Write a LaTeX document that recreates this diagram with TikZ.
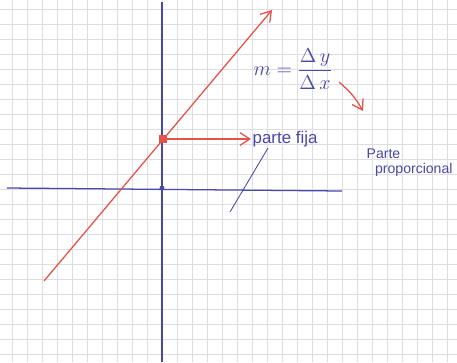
\documentclass[tikz,border=0pt]{standalone}
\usepackage{fontspec}
\setmainfont{Liberation Sans}
\usetikzlibrary{positioning, arrows.meta}
\definecolor{penred}{RGB}{228,82,72}
\definecolor{penblue}{RGB}{72,72,168}
\definecolor{gridgray}{RGB}{222,222,226}

\begin{document}
\begin{tikzpicture}[x=0.025cm, y=-0.025cm,
        paper/.style={gridgray, line width=0.4pt},
        axis/.style={penblue, line width=0.9pt},
        redarrow/.style={-{Straight Barb[length=7pt, width=9pt]}, penred, line width=0.9pt},
        label/.style={penblue, inner sep=1pt},
        dot/.style={circle, inner sep=0pt, minimum size=5pt}
    ]
        \useasboundingbox (0,0) rectangle (457,362);
        \fill[white] (0,0) rectangle (457,362);
        % cuadricula
        \foreach \gx in {12,27,...,457} \draw[paper] (\gx,0) -- (\gx,362);
        \foreach \gy in {9,24,...,362} \draw[paper] (0,\gy) -- (457,\gy);

        % ejes
        \coordinate (yTop) at (162,2);
        \coordinate (yBot) at (162,362);
        \coordinate (xLeft) at (7,188);
        \coordinate (xRight) at (342,191);
        \draw[axis] (yBot) -- (yTop);
        \draw[axis] (xLeft) -- (xRight);
        \node[dot, fill=penblue, minimum size=3.5pt] (origin) at (162,188) {};

        % recta
        \coordinate (lineStart) at (44,281);
        \coordinate (lineEnd) at (272,10);
        \node[dot, fill=penred, rectangle, minimum size=5pt] (cut) at (163,139) {};
        \draw[redarrow] (lineStart) -- (lineEnd);

        % textos
        \node[label, anchor=west, font=\large] (fija) at (251,139) {parte fija};
        \node[label, font=\Large] (slope) at (293,69) {$\displaystyle m=\frac{\Delta\, y}{\Delta\, x}$};
        \node[label, anchor=north west, align=left] (prop) at (365,147) {Parte\\[-1pt]\hspace*{6pt}proporcional};
        \coordinate (pointer) at (230,212);
        \coordinate (curveEnd) at (363,111);

        \draw[redarrow] (cut) -- (fija.west);
        \draw[penblue, line width=0.6pt] (268,148) -- (pointer);
        \draw[redarrow] (339,82) to[bend left=10] (curveEnd);
    \end{tikzpicture}
\end{document}
